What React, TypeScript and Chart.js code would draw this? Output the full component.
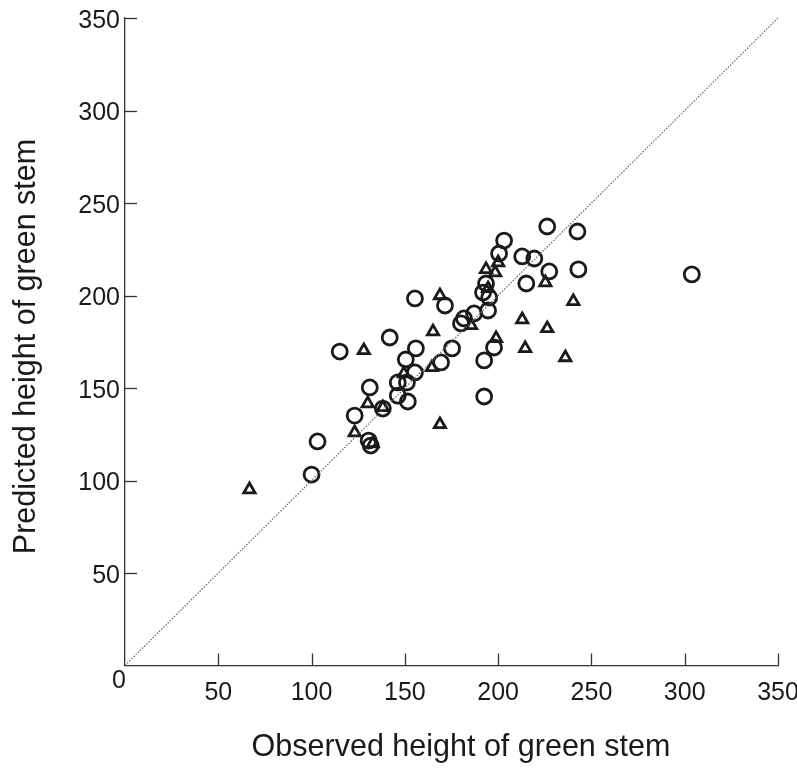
import React, { useEffect, useRef } from "react";
import { Chart, registerables } from "chart.js";

Chart.register(...registerables);

// Circles (observed, predicted)
const circleObserved = [
  100.0, 103.2, 115.1, 131.2, 123.1, 130.6, 131.7, 155.4, 171.5, 141.9,
  155.9, 150.5, 155.4, 146.2, 151.1, 146.2, 151.6, 138.2, 175.3, 169.4,
  180.1, 181.7, 187.1, 194.6, 193.5, 191.9, 195.2, 200.5, 203.2, 212.9,
  219.4, 215.1, 226.3, 242.5, 227.4, 243.0, 197.8, 192.5, 192.5, 303.8,
];
const circlePredicted = [
  103.2, 121.1, 169.7, 150.3, 135.1, 121.6, 118.9, 198.4, 194.6, 177.3,
  171.4, 165.4, 158.4, 153.0, 153.0, 145.9, 142.7, 138.9, 171.4, 163.8,
  184.9, 187.6, 190.3, 191.9, 206.5, 201.6, 198.9, 222.7, 229.7, 221.1,
  220.0, 206.5, 237.3, 234.6, 213.0, 214.1, 171.9, 164.9, 145.4, 211.4,
];

// Triangles (observed, predicted)
const triangleObserved = [
  66.7, 128.0, 130.1, 123.1, 132.8, 168.8, 165.1, 149.5, 138.2, 168.8,
  164.5, 185.5, 198.9, 200.0, 193.5, 198.4, 194.6, 225.3, 240.3, 212.9,
  226.3, 214.5, 236.0,
];
const trianglePredicted = [
  95.1, 170.3, 141.6, 125.9, 120.0, 200.0, 180.5, 157.8, 139.5, 130.3,
  161.1, 183.8, 176.8, 217.8, 214.1, 212.4, 203.8, 207.0, 196.8, 187.0,
  182.2, 171.4, 166.5,
];

// 1:1 reference line
const diagonalLine = [0, 350];

const tickValues = [0, 50, 100, 150, 200, 250, 300, 350];

const xTitle = "Observed height of green stem";
const yTitle = "Predicted height of green stem";

const FONT = '"Liberation Sans", Arial, Helvetica, sans-serif';
const INK = "#1a1a1a";
const AXIS = "#333333";

const axisDecor = {
  id: "axisDecor",
  afterDatasetsDraw(chart: any) {
    const { ctx, chartArea, scales } = chart;
    const x = scales.x;
    const y = scales.y;
    ctx.save();
    // inward tick marks
    ctx.strokeStyle = AXIS;
    ctx.lineWidth = 1.3;
    tickValues.forEach((v) => {
      if (v === 0) return;
      const px = Math.round(x.getPixelForValue(v)) + 0.5;
      ctx.beginPath();
      ctx.moveTo(px, chartArea.bottom);
      ctx.lineTo(px, chartArea.bottom - 12);
      ctx.stroke();
      const py = Math.round(y.getPixelForValue(v)) + 0.5;
      ctx.beginPath();
      ctx.moveTo(chartArea.left, py);
      ctx.lineTo(chartArea.left + 12, py);
      ctx.stroke();
    });
    // shared origin label
    ctx.fillStyle = INK;
    ctx.font = `25px ${FONT}`;
    ctx.textAlign = "right";
    ctx.textBaseline = "alphabetic";
    ctx.fillText("0", chartArea.left + 1, chartArea.bottom + 22);
    // axis titles
    ctx.font = `30.5px ${FONT}`;
    ctx.textAlign = "center";
    ctx.fillText(xTitle, 461, 756);
    ctx.translate(35, 346.5);
    ctx.rotate(-Math.PI / 2);
    ctx.fillText(yTitle, 0, 0);
    ctx.restore();
  },
};

export default function App() {
  const canvasRef = useRef<HTMLCanvasElement | null>(null);

  useEffect(() => {
    if (!canvasRef.current) return;
    const circles = circleObserved.map((v, i) => ({ x: v, y: circlePredicted[i] }));
    const triangles = triangleObserved.map((v, i) => ({ x: v, y: trianglePredicted[i] }));
    const diag = diagonalLine.map((v) => ({ x: v, y: v }));

    const chart = new Chart(canvasRef.current, {
      type: "scatter",
      data: {
        datasets: [
          {
            type: "line",
            label: "1:1",
            data: diag,
            borderColor: "#666666",
            borderWidth: 1.2,
            borderDash: [1.5, 1.5],
            pointRadius: 0,
            fill: false,
          } as any,
          {
            label: "circles",
            data: circles,
            pointStyle: "circle",
            pointRadius: 7.5,
            pointBorderWidth: 2.8,
            borderColor: INK,
            backgroundColor: "rgba(0,0,0,0)",
          } as any,
          {
            label: "triangles",
            data: triangles,
            pointStyle: "triangle",
            pointRadius: 6.5,
            pointBorderWidth: 2.8,
            borderColor: INK,
            backgroundColor: "rgba(0,0,0,0)",
          } as any,
        ],
      },
      options: {
        responsive: false,
        animation: false,
        devicePixelRatio: 1,
        layout: { padding: { top: 18, right: 19, left: 0, bottom: 0 } },
        plugins: {
          legend: { display: false },
          tooltip: { enabled: false },
        },
        scales: {
          x: {
            type: "linear",
            position: "bottom",
            min: 0,
            max: 350,
            afterFit(s: any) {
              s.height = 103.5;
              s.paddingLeft = 0;
              s.paddingRight = 0;
            },
            ticks: {
              stepSize: 50,
              padding: 13,
              color: INK,
              font: { family: FONT, size: 25 },
              maxRotation: 0,
              autoSkip: false,
              callback: (v: any) => (v === 0 ? "" : String(v)),
            },
            grid: { display: false, drawTicks: false },
            border: { display: true, color: AXIS, width: 1.3 },
            title: { display: false },
          },
          y: {
            type: "linear",
            position: "left",
            min: 0,
            max: 350,
            afterFit(s: any) {
              s.width = 125;
              s.paddingTop = 0;
              s.paddingBottom = 0;
            },
            ticks: {
              stepSize: 50,
              padding: 5,
              labelOffset: 3,
              color: INK,
              font: { family: FONT, size: 25 },
              autoSkip: false,
              callback: (v: any) => (v === 0 ? "" : String(v)),
            },
            grid: { display: false, drawTicks: false },
            border: { display: true, color: AXIS, width: 1.3 },
            title: { display: false },
          },
        },
      },
      plugins: [axisDecor],
    } as any);

    return () => chart.destroy();
  }, []);

  return (
    <div style={{ position: "absolute", left: 0, top: 0, width: 797, height: 769, background: "#fff" }}>
      <canvas ref={canvasRef} width={797} height={769} />
    </div>
  );
}
